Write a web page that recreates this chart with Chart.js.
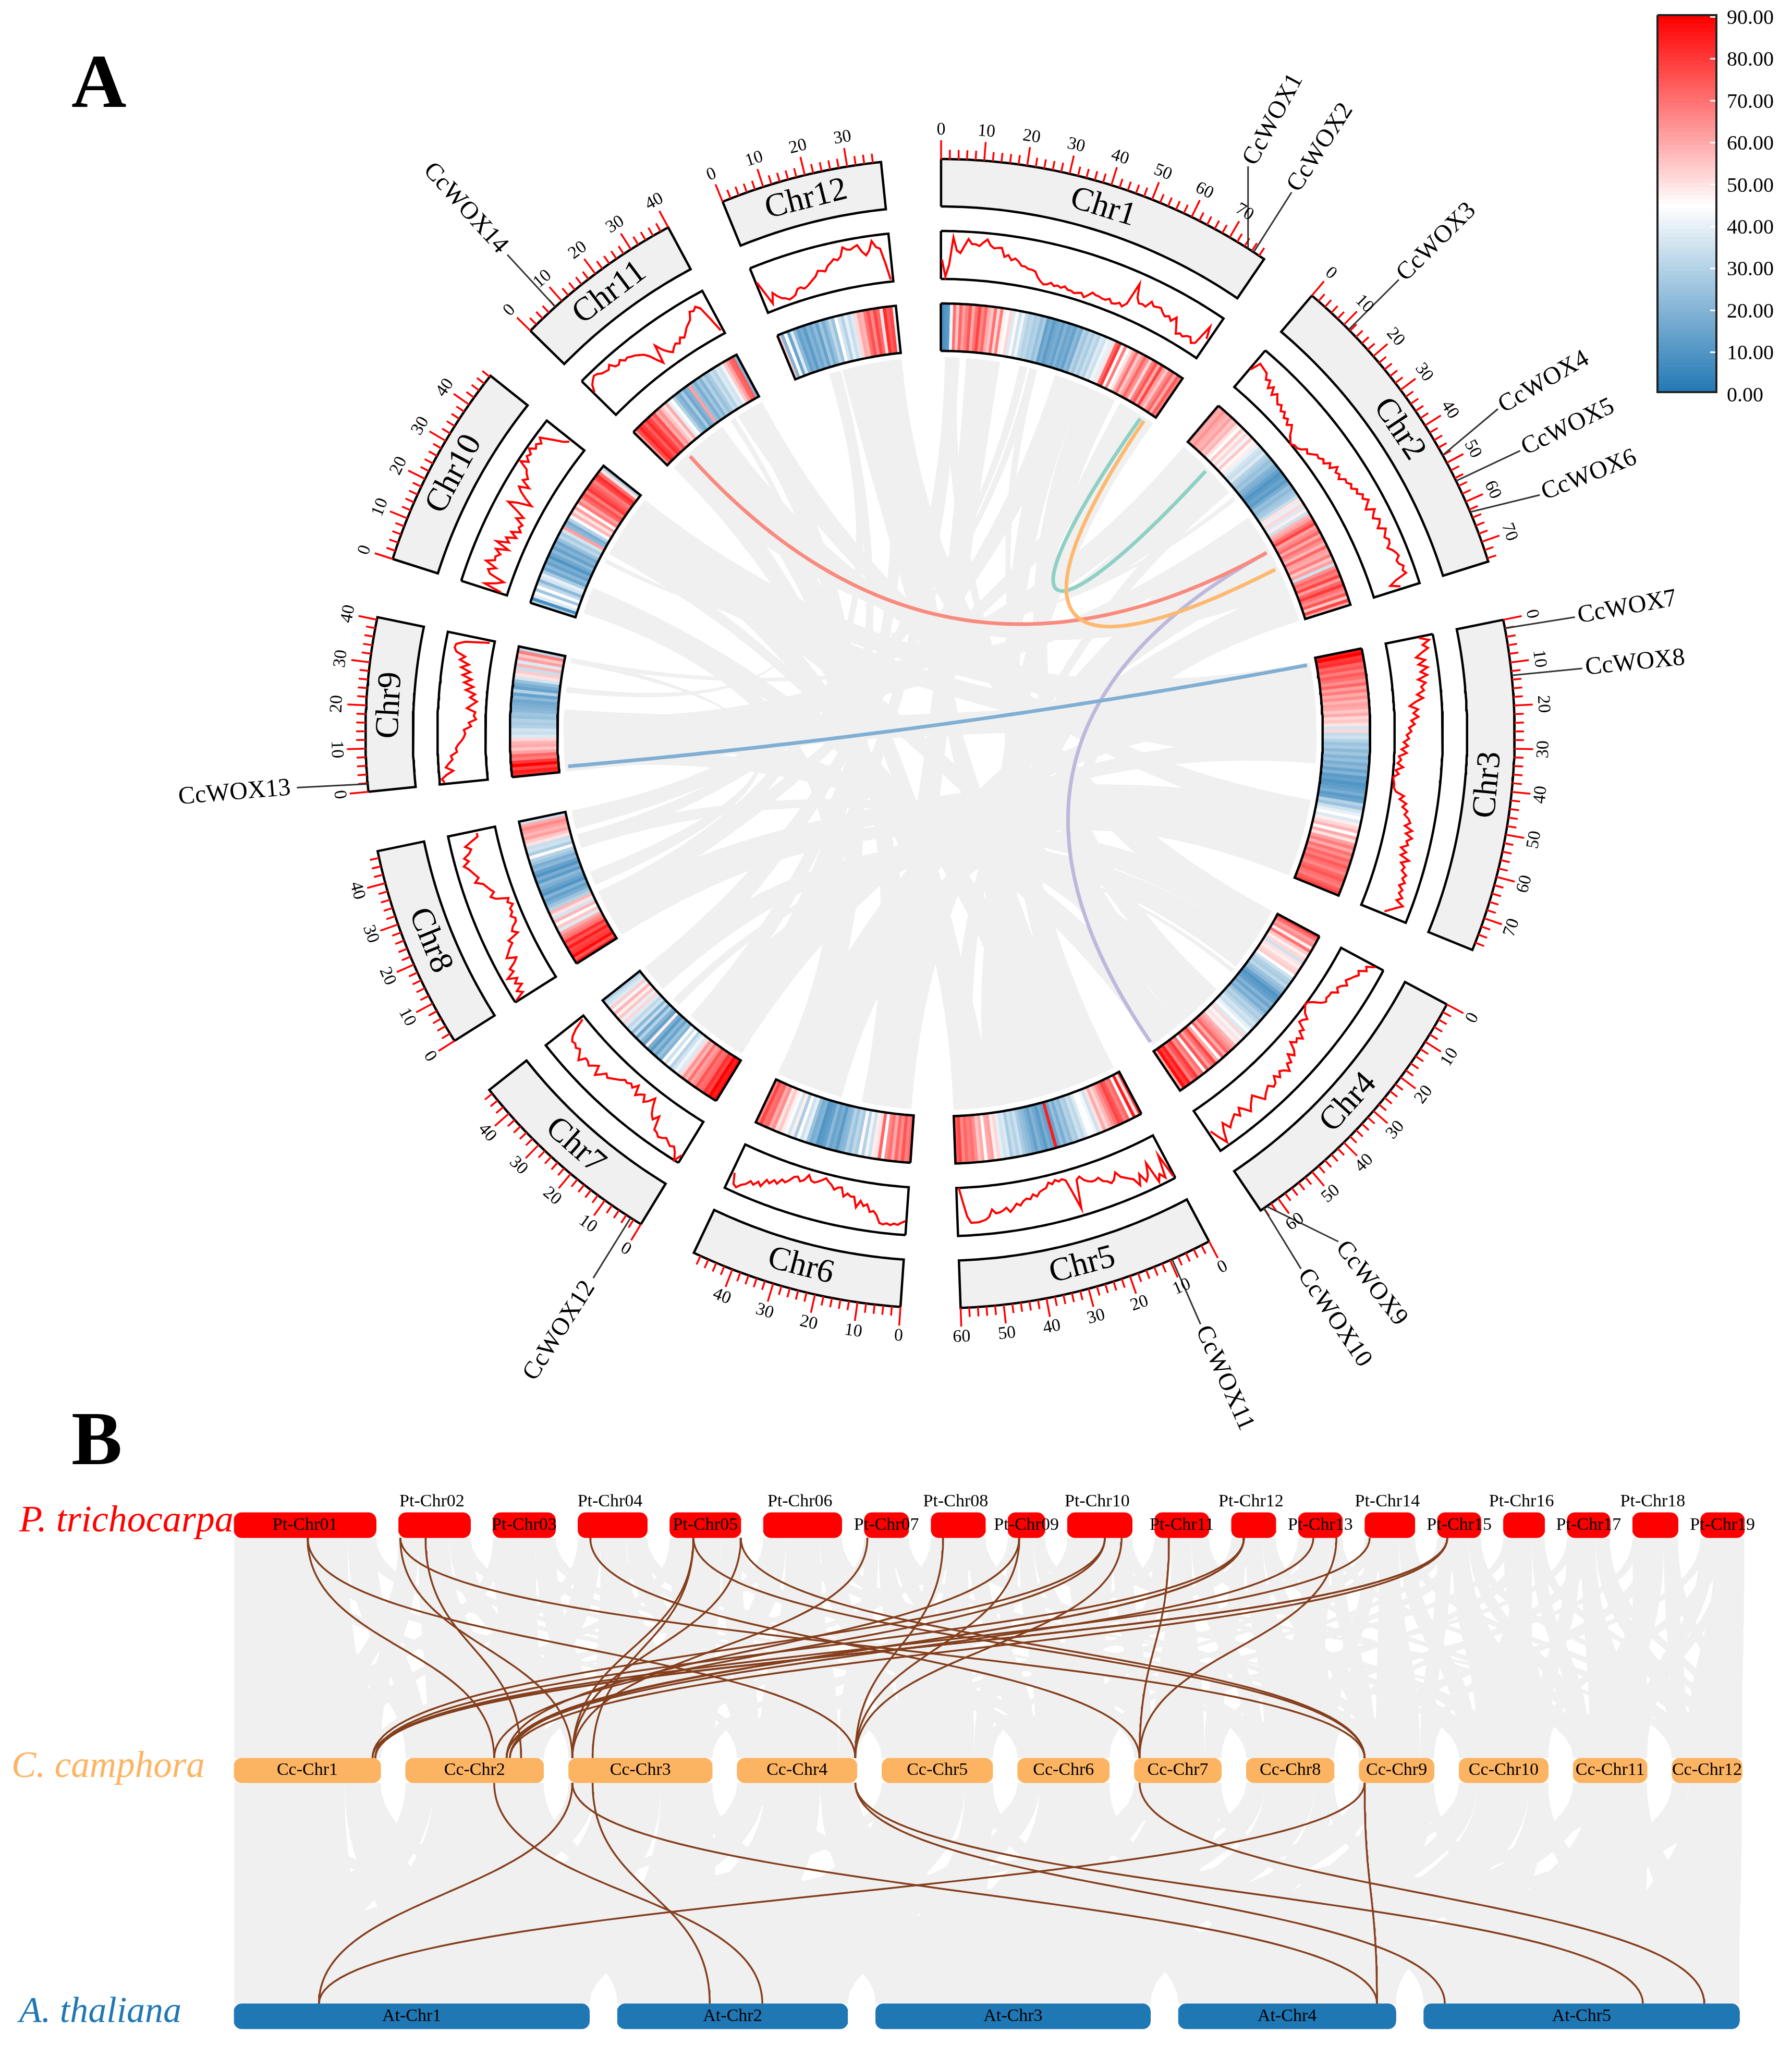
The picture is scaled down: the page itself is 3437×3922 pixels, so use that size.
<!DOCTYPE html>
<html><head><meta charset="utf-8">
<style>html,body{margin:0;padding:0;background:#fff}canvas{display:block}</style>
<script src="https://cdn.jsdelivr.net/npm/chart.js@4"></script>
</head><body><canvas id="c" width="3437" height="3922"></canvas>
<script>
// ---------- DATA : panel A ----------
const chrNames = ['Chr1','Chr2','Chr3','Chr4','Chr5','Chr6','Chr7','Chr8','Chr9','Chr10','Chr11','Chr12'];
const chrLengths = [79.4,74.8,77.8,64.9,60,49.7,47.1,47.6,40.6,48.3,40,37.9];
const heat1 = [8,10,12,42,70,55,72,62,68,75,60,70,78,66,72,60,55,70,52,68,48,44,52,38,46,35,42,34,30,32,28,30,24,28,14,18,12,16,18,14,20,15,18,14,22,18,30,26,32,28,34,30,38,35,42,40,50,72,80,45,68,45,50,60,70,55,62,72,65,52,68,75,60,78,62,55,66,72,60,74,68];
const heat2 = [62,60,64,60,58,62,55,58,50,45,55,48,52,42,55,46,48,40,36,34,38,30,28,24,26,20,18,14,10,12,15,12,18,24,22,26,28,34,50,40,52,38,48,35,58,62,70,78,62,66,72,60,70,65,58,72,62,60,68,55,62,35,65,72,68,78,62,72,80,70,65,75,55,78,60];
const heat3 = [85,90,80,82,72,75,68,74,70,65,72,62,68,60,65,58,62,60,55,60,52,55,50,36,52,33,35,30,25,28,22,26,20,24,18,22,15,20,12,14,10,12,14,18,12,15,30,25,35,40,45,38,48,52,58,45,60,50,62,68,60,70,65,72,68,74,70,66,72,75,70,68,74,78];
const heat4 = [78,70,62,66,48,70,55,48,52,35,50,48,52,54,45,35,30,28,32,25,22,15,10,12,14,20,15,22,18,25,30,28,32,36,34,40,44,38,52,42,50,48,58,62,66,72,60,72,45,60,78,70,62,75,45,70,65,80,75,68,85,80,88,60];
const heat5 = [80,50,85,45,72,68,75,78,70,65,58,52,60,50,35,42,45,44,38,32,35,28,30,22,26,18,24,15,85,14,18,12,16,20,14,18,22,24,28,35,30,34,28,38,36,40,52,48,62,60,45,60,55,65,70,68,72,66,78,74];
const heat6 = [72,68,75,65,72,60,70,66,45,72,50,48,35,42,30,46,28,32,25,30,22,20,12,18,15,22,14,12,10,20,18,25,40,35,45,28,48,36,44,48,55,50,65,60,72,70,78,68];
const heat7 = [88,85,90,78,82,72,70,75,65,62,70,58,64,52,38,42,36,30,45,35,44,20,25,15,22,12,18,48,14,20,30,16,34,22,36,32,38,52,40,55,48,58,42,54,38,35,30];
const heat8 = [85,75,88,80,78,85,75,82,70,66,60,38,55,44,58,36,50,58,30,25,18,14,20,10,14,18,22,12,18,10,14,22,18,26,30,46,28,35,34,50,55,62,58,62,66,60,35];
const heat9 = [82,85,78,90,80,68,72,62,55,60,58,52,38,34,36,30,28,30,24,26,22,20,18,16,22,14,30,14,18,24,36,50,54,34,58,38,62,55,68,32];
const heat10 = [30,8,38,44,26,45,32,22,36,40,28,16,22,14,18,10,16,22,14,20,16,24,32,28,36,62,22,18,30,44,58,50,62,46,68,62,72,76,68,80,76,72,68,78,82,70,50,30];
const heat11 = [62,76,84,80,74,82,78,70,76,60,64,56,50,60,40,45,30,22,18,28,16,20,62,24,18,26,20,30,24,28,34,30,38,36,42,55,62,72,74,20];
const heat12 = [55,20,45,15,38,22,14,18,12,20,16,22,14,26,18,24,32,25,45,36,30,40,34,38,52,60,58,70,76,66,78,72,50,82,74,78,40];
const heatTracks = [heat1,heat2,heat3,heat4,heat5,heat6,heat7,heat8,heat9,heat10,heat11,heat12];

const line1 = [.4,.05,.3,.87,.6,.55,.7,.85,.75,.75,.72,.8,.87,.75,.7,.72,.73,.55,.6,.5,.55,.5,.42,.42,.38,.38,.36,.25,.18,.13,.15,.2,.15,.18,.15,.2,.15,.15,.12,.15,.17,.1,.17,.25,.22,.22,.2,.2,.25,.18,.2,.25,.2,.3,.78,.5,.4,.42,.4,.55,.48,.5,.52,.45,.4,.45,.38,.5,.35,.2,.25,.22,.28,.3,.2,.25,.7,.45];
const line2 = [.5,.72,.7,.68,.66,.55,.6,.45,.55,.4,.5,.42,.35,.4,.3,.35,.25,.3,.2,.28,.2,.1,.05,0,.05,.05,.1,.2,.15,.22,.3,.28,.35,.3,.42,.35,.5,.4,.45,.38,.5,.48,.55,.5,.6,.55,.65,.6,.7,.62,.55,.72,.65,.6,.72,.68,.6,.75,.7,.65,.72,.7,.62,.7,.75,.78,.7,.72,.8,.75,.8,.55,.4,.6];
const line3 = [.7,.9,.75,.85,.7,.57,.75,.6,.78,.62,.75,.55,.7,.6,.65,.5,.62,.45,.33,.5,.4,.5,.35,.42,.3,.35,.25,.3,.19,.28,.15,.26,.1,.15,.08,.2,.05,.12,.01,.03,.05,.05,.1,.28,.2,.35,.28,.4,.35,.45,.5,.4,.57,.45,.6,.5,.55,.42,.55,.45,.65,.5,.6,.56,.68,.62,.7,.6,.7,.65,.75,.65,.82,.7,.6,.5];
const line4 = [.82,.65,.7,.55,.6,.53,.48,.42,.5,.4,.35,.42,.3,.3,.28,.32,.25,.12,.02,0,.05,.1,.22,.15,.12,.3,.25,.4,.3,.35,.25,.42,.5,.38,.55,.5,.65,.55,.5,.6,.49,.62,.65,.55,.6,.65,.72,.6,.48,.55,.62,.72,.6,.5,.65,.55,.6,.65,.72,.55,.7,.93,.75,.55];
const line5 = [.95,.42,.9,.78,.92,.45,.7,.8,.6,.82,.65,.6,.55,.5,.37,.5,.55,.48,.45,.35,.38,.38,.35,.3,.2,.25,.85,.5,.2,.15,.18,.13,.2,.15,.25,.27,.3,.38,.32,.41,.38,.42,.5,.45,.53,.6,.5,.55,.58,.59,.5,.65,.7,.72,.74,.74,.74,.6,.3,0];
const line6 = [.71,.75,.8,.78,.82,.79,.82,.8,.65,.57,.6,.45,.5,.4,.55,.34,.35,.3,.38,.2,.22,.28,.2,.15,.09,.15,.2,.24,.22,.12,.25,.3,.22,.25,.35,.42,.38,.5,.45,.55,.5,.67,.6,.7,.65,.75,.8,.89,.85,.63];
const line7 = [.83,1,.85,.76,.8,.75,.7,.75,.78,.72,.7,.42,.55,.48,.35,.17,.3,.38,.25,.3,.38,.18,.3,.25,.3,.28,.35,.4,.45,.5,.45,.55,.64,.45,.52,.6,.55,.54,.68,.58,.5,.55,.5,.52,.45,.3,.06];
const line8 = [.96,.75,.85,.68,.8,.7,.89,.7,.75,.6,.51,.7,.62,.55,.45,.5,.25,.35,.3,.2,.17,.25,.18,.2,.11,.2,.15,.4,.49,.39,.45,.5,.55,.7,.6,.65,.7,.75,.83,.7,.78,.65,.59,.7,.55,.4,.4];
const line9 = [.9,.95,.85,.7,.85,.78,.7,.73,.6,.62,.57,.5,.45,.42,.45,.3,.35,.2,.25,.22,.4,.3,.2,.35,.25,.45,.3,.5,.35,.55,.4,.6,.45,.65,.55,.75,.8,.78,.6,.1];
const line10 = [.14,.52,.3,.15,.48,.55,.4,.65,.48,.5,.42,.55,.3,.6,.35,.45,.25,.4,.22,.3,.25,.43,.3,.5,.74,.55,.27,.45,.6,.7,.5,.7,.62,.7,.75,.95,.8,.9,.85,.95,.83,.88,.8,.9,.75,.6,.45,.36];
const line11 = [.65,.79,.85,.9,.88,.82,.8,.78,.85,.74,.72,.78,.7,.72,.68,.65,.6,.55,.45,.3,.17,.56,.4,.3,.23,.3,.35,.3,.4,.35,.42,.5,.55,.6,.75,.72,.78,.7,.4,.09];
const line12 = [.67,.4,.14,.35,.25,.18,.15,.1,.12,.15,.25,.27,.22,.25,.3,.35,.4,.5,.48,.45,.55,.6,.66,.62,.68,.86,.8,.78,.82,.85,.7,.61,.7,.89,.75,.71,.4,.04];
const lineTracks = [line1,line2,line3,line4,line5,line6,line7,line8,line9,line10,line11,line12];

// gene, chromosome index, position (Mb), bearing of its label (deg)
const geneNames = ['CcWOX1','CcWOX2','CcWOX3','CcWOX4','CcWOX5','CcWOX6','CcWOX7','CcWOX8','CcWOX9','CcWOX10','CcWOX11','CcWOX12','CcWOX13','CcWOX14'];
const geneChr = [0,0,1,1,1,1,2,2,3,3,4,6,8,10];
const geneMb = [75,76.5,11.6,48,54.7,62.6,2,13,63.2,64,9.5,2.8,1.8,8];
const geneBearing = [28.5,33,45.3,59.8,64,68.3,79.6,84.2,141.9,146,156.2,212.5,265.2,317.9];
// collinear gene pairs : [geneA, geneB], first painted first
const genePairs = [[3,9],[0,2],[3,13],[1,4],[6,12]];
const genePairColors = ['#bdb8dc','#8ed0c4','#f98a7e','#fdb96f','#80afd3'];
const genePairSpread = [0,.14,0,.02,0];

// synteny ribbons : chrA, fromMb, toMb, chrB, fromMb, toMb
const circosRibbons = [
[0,9,21,5,2,18],[0,1.5,6.7,6,1,12],[0,28,31,7,42,47],[0,31.7,34.5,7,34,39],[0,41,52,4,1,10],[0,52,64,3,34,42],[0,66,72,1,1,10],[0,72,79.7,1,10,22],
[1,24.9,26.5,9,21.5,23],[1,34,50,4,31,48],[1,50,63,10,1,14],[1,63,74.8,3,53,64],[2,1.2,6,8,0,6],[2,6.5,22,8,6,22],[2,22,37,9,25,36],[2,50,64,5,26,38],[2,64,77.8,6,12,23],
[3,0,12,7,0,9],[3,12,23.5,6,37,47],[3,24.5,26,6,29,32],[3,42,52,9,36,48],[4,10,20,11,16.6,27],[4,20,30,11,27,38],[4,48,60,10,14,23.5],[5,38,50,9,2.3,11.8],[7,9,17.5,11,11.8,16],[7,20,25,8,38.6,40.4],[8,28,30,10,27,29],[10,31.6,40,5,44,50],
[0,70,79,4,25,40],[1,0,12,8,5,20],[1,62,74.8,5,35,49],[2,1.2,14,9,35,48],[2,64,77.8,7,5,15],[3,0,13,11,22,35],[3,52,64,8,12,22],[4,1,14,0,42,52],[4,46,60,9,36,48],[5,1,14,1,36,48],[5,38,50,10,33,40],[6,1,12,2,8,20],
[6,37,47,0,2,6.5],[7,1,12,2,52,64],[7,41,47.6,0,70,78],[8,1,8,3,36,46],[8,38.6,40.4,1,36,42],[9,2.3,11.8,4,12,20],[9,38,48,2,8,18],[10,1,10,5,2,12],[10,32,40,2,52,60],[11,12,16,6,2,12],[11,30,37.9,3,2,12],[0,1.5,6.7,6,38,46],
[0,31.7,34.5,3,45,52],[0,41,48,7,10,17],[1,34,42,8,14,20],[1,18,22.9,4,52,60],[2,28,37,6,14,22],[2,50,58,10,30,40],[3,34,42,0,2,6],[5,12,18.7,10,14,22],[5,26,34,1,50,58],[6,16,23.5,11,30,37],[7,12,17.5,0,42,50],[7,34,39,3,4,12],[9,25,30,4,20,30],[10,14,23.5,2,14,30],[11,22,30,3,5,14]
];

const colorbarTicks = [0,10,20,30,40,50,60,70,80,90];
const colorbarValues = Array.from({length:91},(_,i)=>i);

// ---------- DATA : panel B ----------
const ptNames = ['Pt-Chr01','Pt-Chr02','Pt-Chr03','Pt-Chr04','Pt-Chr05','Pt-Chr06','Pt-Chr07','Pt-Chr08','Pt-Chr09','Pt-Chr10','Pt-Chr11','Pt-Chr12','Pt-Chr13','Pt-Chr14','Pt-Chr15','Pt-Chr16','Pt-Chr17','Pt-Chr18','Pt-Chr19'];
const ptLengths = [50,25.3,22,24.4,25,27.6,15.6,19.1,13,22.8,19.1,15.6,15.5,17.6,15.3,14.5,15.1,16,15.4];
const ccNames = ['Cc-Chr1','Cc-Chr2','Cc-Chr3','Cc-Chr4','Cc-Chr5','Cc-Chr6','Cc-Chr7','Cc-Chr8','Cc-Chr9','Cc-Chr10','Cc-Chr11','Cc-Chr12'];
const ccLengths = chrLengths;
const atNames = ['At-Chr1','At-Chr2','At-Chr3','At-Chr4','At-Chr5'];
const atLengths = [30.4,19.7,23.5,18.6,27];
// ptChr, from, to, ccChr, from, to
const ptCcRibbons = [
[1,0,40,1,0,70],[1,10,30,1,40,79],[1,40,50,2,0,12],[2,0,7,1,70,79.4],[2,7,18,2,12,60],[2,18,25.3,3,0,14],[3,0,7,2,60,74.8],[3,7,15,2,30,74],[3,15,22,3,0,14],
[4,0,8,2,62,74.8],[4,8,17,3,14,65],[4,17,24.4,4,0,12],[5,0,8,3,65,77.8],[5,8,18,3,30,77],[5,18,25,4,0,12],[6,0,8,3,65,77.8],[6,8,20,4,12,55],[6,20,27.6,5,0,12],
[7,0,5,4,55,64.9],[7,5,10,5,10,50],[7,10,15.6,6,0,10],[8,0,6,4,55,64.9],[8,6,13,5,10,50],[8,13,19.1,6,0,10],[9,0,4,5,50,60],[9,4,9,6,10,42],[9,9,13,7,0,10],
[10,0,7,6,42,49.7],[10,7,16,6,10,42],[10,16,22.8,7,0,10],[11,0,6,6,42,49.7],[11,6,13,7,10,38],[11,13,19.1,8,0,10],[12,0,5,7,38,47.1],[12,5,11,8,10,40],[12,11,15.6,9,0,9],
[13,0,5,8,40,47.6],[13,5,11,8,10,40],[13,11,15.5,9,0,9],[14,0,5,8,40,47.6],[14,5,12,9,9,33],[14,12,17.6,10,0,10],[15,0,5,9,33,40.6],[15,5,11,10,10,40],[15,11,15.3,11,0,9],
[16,0,5,10,40,48.3],[16,5,10,10,10,40],[16,10,14.5,11,0,9],[17,0,5,10,40,48.3],[17,5,10,11,9,33],[17,10,15.1,12,0,9],[18,0,5,11,33,40],[18,5,11,11,9,33],[18,11,16,12,0,8],[19,0,5,11,33,40],[19,5,15.4,12,8,37.9],
[1,44,50,5,0,15],[2,20,25.3,6,0,12],[3,17,22,6,12,25],[4,19,24.4,7,0,12],[5,20,25,7,12,25],[6,22,27.6,8,0,12],[7,11,15.6,9,0,10],[8,14,19.1,9,10,20],[9,9,13,10,0,12],[10,18,22.8,10,12,24],[11,15,19.1,11,0,10],[12,12,15.6,11,10,20],[13,12,15.5,12,0,10],[14,14,17.6,12,10,20],[15,12,15.3,12,20,28],[16,11,14.5,12,28,33],[17,11,15.1,12,30,35],[18,12,16,12,33,37.9],
[2,0,5,1,50,62],[3,0,4,1,40,55],[4,0,4,1,60,70],[5,0,4,2,0,12],[6,0,5,2,12,25],[7,0,3,2,50,62],[8,0,4,3,0,12],[9,0,3,3,12,25],[10,0,5,3,50,62],[11,0,4,4,0,12],[12,0,3,4,20,32],[13,0,3,5,0,12],[14,0,4,5,15,30],[15,0,3,6,0,12],[16,0,3,6,15,30],[17,0,3,7,0,12],[18,0,3,8,0,12],[19,0,3,9,0,12],
[8,6,12,1,72,79.4],[10,7,13,2,68,74.8],[12,5,10,3,70,77.8],[13,5,10,4,58,64.9],[14,5,10,5,54,60],[15,5,10,6,44,49.7],[16,5,10,7,41,47.1],[17,5,10,8,42,47.6],[18,5,10,9,35,40.6],[19,3,8,10,43,48.3],[19,8,12,11,34,40],
[1,5,18,2,0,6],[1,10,20,3,0,6],[1,20,30,4,0,6],[2,5,12,5,0,6],[3,5,12,6,0,6],[4,8,14,7,0,6],[5,8,14,8,0,6],[6,8,16,9,0,6],[7,5,10,10,0,6],[8,6,12,11,0,6],[10,8,14,12,0,6]
];
// ccChr, from, to, atChr, from, to
const ccAtRibbons = [
[1,0,60,1,0,11],[1,60,79.4,1,14,22],[2,0,15,1,2,8],[2,15,55,1,10,22],[2,55,74.8,1,22,30.4],[3,0,15,1,8,14],[3,15,50,1,20,30],[3,50,77.8,2,0,9],[4,0,15,1,24,30],[4,15,45,2,3,13],[4,45,64.9,3,0,6],
[5,0,12,2,8,14],[5,12,45,2,12,19.7],[5,45,60,3,2,9],[6,0,12,2,12,19],[6,12,38,3,5,14],[6,38,49.7,3,14,20],[7,0,10,3,0,6],[7,10,38,3,10,19],[7,38,47.1,3,19,23.5],[8,0,10,3,8,14],[8,10,37,3,18,23.5],[8,37,47.6,4,0,6],
[9,0,9,3,18,23],[9,9,30,4,2,10],[9,30,40.6,4,10,16],[10,0,10,4,4,10],[10,10,38,4,12,18.6],[10,38,48.3,5,0,7],[11,0,9,4,10,17],[11,9,31,5,3,13],[11,31,40,5,13,19],[12,0,9,5,4,10],[12,9,37.9,5,15,27],
[1,72,79.4,2,0,6],[2,68,74.8,2,8,14],[3,70,77.8,3,0,6],[4,58,64.9,3,8,14],[5,54,60,4,0,6],[6,44,49.7,4,6,10],[7,41,47.1,5,0,6],[8,42,47.6,5,6,12],[9,35,40.6,5,12,17],[10,43,48.3,5,17,22],[11,34,40,5,22,27],
[2,0,6,1,0,6],[3,0,6,1,2,8],[4,0,6,1,6,12],[5,0,6,1,14,20],[6,0,6,1,20,26],[7,0,6,2,0,6],[8,0,6,2,6,12],[9,0,6,3,0,6],[10,0,6,3,8,14],[11,0,6,4,0,6],[12,0,6,4,8,14],
[7,10,20,1,26,30.4],[1,5,20,2,0,3],[9,10,20,2,16,19.7],[2,10,25,3,0,3],[11,10,20,3,20,23.5],[4,10,25,4,0,3],[12,10,25,4,15,18.6],[6,10,25,5,0,3]
];
// ptChr, Mb, ccChr, Mb
const ptCcLinks = [
[1,25.9,2,48],[1,25.9,4,64],[2,.6,3,2],[2,.6,9,3],[2,9.5,2,62.6],[4,4.3,7,2.8],[5,8.3,3,2],[5,8.3,3,13],[5,8.3,9,3],[5,25,3,2],[5,25,9,3],[7,1.1,3,2],[8,4.2,4,64],[9,4,4,64],[9,4,2,54.7],
[10,13.2,1,75],[10,13.2,2,48],[10,19.1,4,64],[11,5,7,2.8],[12,4.4,1,76.5],[12,4.4,2,54.7],[12,4.4,2,56.5],[13,5.3,2,54.7],[13,13.4,7,2.8],[14,1.7,1,76.5],[15,3.5,1,75],[15,3.5,1,76.5],[15,3.5,2,56.5]
];
// ccChr, Mb, atChr, Mb
const ccAtLinks = [[2,48,2,12.4],[3,2,1,7.26],[3,2,4,17],[3,13,2,7.9],[4,64,5,1.8],[4,64,5,18.75],[7,2.8,5,24],[9,3,1,7.26],[9,3,4,17]];

// ---------- LAYOUT ----------
const W=3437,H=3922;
const CX=1803,CY=1407;
const R={ideoOut:1102,ideoIn:1011,lineOut:964,lineIn:872,heatOut:825,heatIn:734,rib:722,link:716,label:1238,chrText:1056};
const GAP=6,START=0.1;
const degPerMb=(360-GAP*chrLengths.length)/chrLengths.reduce((a,b)=>a+b,0);
const chrStart=[];chrLengths.reduce((acc,l,i)=>{chrStart[i]=acc;return acc+l*degPerMb+GAP;},START);
const GRAY='#f0f0f0';
const rad=d=>d*Math.PI/180;
const polar=(r,deg)=>({x:CX+r*Math.sin(rad(deg)),y:CY-r*Math.cos(rad(deg))});
const ang=(chr,mb)=>chrStart[chr]+mb*degPerMb;

const ds=[];   // pushed in painting order
const texts=[];
function poly(pts,fill,stroke,lw){ds.push({type:'scatter',showLine:true,data:pts,fill:fill?'shape':false,backgroundColor:fill||'transparent',borderColor:stroke||fill||'transparent',borderWidth:lw||0,pointRadius:0,tension:0,borderJoinStyle:'miter',clip:false});}
function path(pts,color,lw){ds.push({type:'scatter',showLine:true,data:pts,fill:false,borderColor:color,backgroundColor:color,borderWidth:lw,pointRadius:0,tension:0,borderCapStyle:'butt',clip:false});}
function arcPts(r,a1,a2){const n=Math.max(2,Math.ceil(Math.abs(a2-a1)/.5));const o=[];for(let i=0;i<=n;i++)o.push(polar(r,a1+(a2-a1)*i/n));return o;}
function sector(r1,r2,a1,a2){const p=arcPts(r1,a1,a2).concat(arcPts(r2,a2,a1));p.push(p[0]);return p;}
function quad(p0,p2,n){const o=[];const c={x:CX,y:CY};for(let i=0;i<=n;i++){const t=i/n,u=1-t;o.push({x:u*u*p0.x+2*u*t*c.x+t*t*p2.x,y:u*u*p0.y+2*u*t*c.y+t*t*p2.y});}return o;}
// same curve as quad, with its two control points pushed apart by `s`
function spreadCurve(a,b,s,n){
  const c1={x:CX+(a.x-CX)/3+s*(a.x-b.x),y:CY+(a.y-CY)/3+s*(a.y-b.y)},c2={x:CX+(b.x-CX)/3+s*(b.x-a.x),y:CY+(b.y-CY)/3+s*(b.y-a.y)};
  const o=[];for(let i=0;i<=n;i++){const t=i/n,u=1-t;o.push({x:u*u*u*a.x+3*u*u*t*c1.x+3*u*t*t*c2.x+t*t*t*b.x,y:u*u*u*a.y+3*u*u*t*c1.y+3*u*t*t*c2.y+t*t*t*b.y});}return o;
}
function heatColor(v){
  const mix=(a,b,t)=>Math.round(a+(b-a)*t);
  if(v<=45){const t=v/45;return `rgb(${mix(31,255,t)},${mix(119,255,t)},${mix(180,255,t)})`;}
  const t=(v-45)/45;return `rgb(255,${mix(255,0,t)},${mix(255,0,t)})`;
}

// ---- panel A ribbons
circosRibbons.forEach(([ca,a1,a2,cb,b1,b2])=>{
  const A=arcPts(R.rib,ang(ca,a1),ang(ca,a2)),B=arcPts(R.rib,ang(cb,b1),ang(cb,b2));
  const p=A.concat(quad(A[A.length-1],B[0],30)).concat(B).concat(quad(B[B.length-1],A[0],30));
  poly(p,GRAY);
});
// coloured links
genePairs.forEach(([g,h],i)=>{
  const a=polar(R.link,ang(geneChr[g],geneMb[g])),b=polar(R.link,ang(geneChr[h],geneMb[h]));
  path(spreadCurve(a,b,genePairSpread[i],90),genePairColors[i],7);
});
// tracks
chrNames.forEach((nm,c)=>{
  const s=chrStart[c],L=chrLengths[c],e=ang(c,L);
  const hv=heatTracks[c];
  hv.forEach((v,i)=>{
    const col=heatColor(v);
    poly(sector(R.heatOut,R.heatIn,ang(c,L*i/hv.length),ang(c,L*(i+1)/hv.length)),col,col,1);
  });
  poly(sector(R.heatOut,R.heatIn,s,e),null,'#000',4.5);
  poly(sector(R.lineOut,R.lineIn,s,e),null,'#000',4.5);
  const lv=lineTracks[c];
  path(lv.map((v,i)=>polar(R.lineIn+v*(R.lineOut-R.lineIn),ang(c,L*(i+.3)/lv.length))),'#ff0000',4);
  poly(sector(R.ideoOut,R.ideoIn,s,e),GRAY,'#000',4.5);
  const minor=[],major=[];
  for(let m=0;m<=L;m+=2){
    const a=ang(c,m),big=m%10===0,arr=big?major:minor;
    arr.push(polar(R.ideoOut,a),polar(R.ideoOut+(big?36:18),a),{x:null,y:null});
    if(big){const rot=(a>90&&a<270)?a-180:a;const lp=polar(R.ideoOut+56,a);texts.push({t:String(m),x:lp.x,y:lp.y,rot,font:'34px "Liberation Serif"',align:'center'});}
  }
  path(minor,'#ff0000',3.5);path(major,'#ff0000',3.5);
  const ma=(s+e)/2,rp=polar(R.chrText,ma);
  texts.push({t:nm,x:rp.x,y:rp.y,rot:(ma>90&&ma<270)?ma-180:(ma>270?ma-360:ma),font:'64px "Liberation Serif"',align:'center'});
});
// gene labels
geneNames.forEach((g,i)=>{
  const base=polar(R.ideoOut,ang(geneChr[i],geneMb[i])),brg=geneBearing[i],knee=polar(R.label,brg);
  path([base,knee],'#333',3);
  const left=brg>180;
  const lp=polar(R.label+(left?12:6),brg);
  texts.push({t:g,x:lp.x,y:lp.y,rot:left?brg-270:brg-90,font:'48px "Liberation Serif"',align:left?'right':'left'});
});
// colour bar
const cbBox={x0:3179,x1:3292,y0:29,y1:752};
const cbY=v=>756-v*8.04;
colorbarValues.forEach(v=>{
  const y0=Math.max(cbBox.y0,cbY(v+.5)),y1=Math.min(cbBox.y1,cbY(v-.5));
  const col=heatColor(v);
  poly([{x:cbBox.x0,y:y0},{x:cbBox.x1,y:y0},{x:cbBox.x1,y:y1},{x:cbBox.x0,y:y1},{x:cbBox.x0,y:y0}],col,col,1);
});
{
 const tk=[];colorbarTicks.forEach(v=>{if(v>0){tk.push({x:3280,y:cbY(v)},{x:3291,y:cbY(v)},{x:null,y:null});}
  texts.push({t:v.toFixed(2),x:3312,y:cbY(v)+3,rot:0,font:'40px "Liberation Serif"',align:'left'});});
 path(tk,'#ffffff',3);
 poly([{x:cbBox.x0,y:cbBox.y0},{x:cbBox.x1,y:cbBox.y0},{x:cbBox.x1,y:cbBox.y1},{x:cbBox.x0,y:cbBox.y1},{x:cbBox.x0,y:cbBox.y0}],null,'#222',4);
}

// ---- panel B
const rows={
  pt:{x0:449,x1:3345.6,gap:43.3,top:2901,bot:2949,len:ptLengths,names:ptNames,col:'#ff0000'},
  cc:{x0:449,x1:3341,gap:48,top:3372,bot:3419,len:ccLengths,names:ccNames,col:'#fdb462'},
  at:{x0:449,x1:3336,gap:53.8,top:3843,bot:3891,len:atLengths,names:atNames,col:'#1f77b4'}
};
Object.values(rows).forEach(r=>{
  const tot=r.len.reduce((a,b)=>a+b,0);r.k=(r.x1-r.x0-r.gap*(r.len.length-1))/tot;
  r.s=[];r.len.reduce((acc,l,i)=>{r.s[i]=acc;return acc+l*r.k+r.gap;},r.x0);
  r.px=(c,m)=>r.s[c-1]+m*r.k;
});
function cubic(x1,y1,x2,y2,n){const ym=(y1+y2)/2,o=[];for(let i=0;i<=n;i++){const t=i/n,u=1-t;
  o.push({x:u*u*u*x1+3*u*u*t*x1+3*u*t*t*x2+t*t*t*x2,y:u*u*u*y1+3*u*u*t*ym+3*u*t*t*ym+t*t*t*y2});}return o;}
function band(ra,rb,list){list.forEach(([ca,a1,a2,cb,b1,b2])=>{
  const xa1=ra.px(ca,a1),xa2=ra.px(ca,a2),xb1=rb.px(cb,b1),xb2=rb.px(cb,b2);
  poly(cubic(xa1,ra.bot,xb1,rb.top,30).concat(cubic(xb2,rb.top,xa2,ra.bot,30)),GRAY);
});}
band(rows.pt,rows.cc,ptCcRibbons);
band(rows.cc,rows.at,ccAtRibbons);
const BROWN='#843e1c';
ptCcLinks.forEach(([a,ma,b,mb])=>path(cubic(rows.pt.px(a,ma),rows.pt.bot,rows.cc.px(b,mb),rows.cc.top,70),BROWN,3.5));
ccAtLinks.forEach(([a,ma,b,mb])=>path(cubic(rows.cc.px(a,ma),rows.cc.bot,rows.at.px(b,mb),rows.at.top,70),BROWN,3.5));
function rrect(x0,x1,y0,y1,r){const o=[];const cs=[[x1-r,y0+r,-90],[x1-r,y1-r,0],[x0+r,y1-r,90],[x0+r,y0+r,180]];
  cs.forEach(([cx,cy,st])=>{for(let i=0;i<=6;i++){const a=rad(st+15*i);o.push({x:cx+r*Math.cos(a),y:cy+r*Math.sin(a)});}});o.push(o[0]);return o;}
Object.entries(rows).forEach(([key,r])=>{
  r.len.forEach((l,i)=>{
    const x0=r.s[i],x1=x0+l*r.k;
    poly(rrect(x0,x1,r.top,r.bot,14),r.col,r.col,1);
    const up=key==='pt'&&i%2===1;
    texts.push({t:r.names[i],x:(x0+x1)/2-(up?5:0),y:up?2880:(r.top+r.bot)/2,rot:0,font:'34px "Liberation Serif"',align:'center'});
  });
});
texts.push({t:'A',x:137,y:205,rot:0,font:'bold 146px "Liberation Serif"',align:'left',base:'alphabetic'});
texts.push({t:'B',x:137,y:2808,rot:0,font:'bold 146px "Liberation Serif"',align:'left',base:'alphabetic'});
texts.push({t:'P. trichocarpa',x:37,y:2937,rot:0,font:'italic 72px "Liberation Serif"',align:'left',base:'alphabetic',col:'#ff0000'});
texts.push({t:'C. camphora',x:22,y:3408,rot:0,font:'italic 71px "Liberation Serif"',align:'left',base:'alphabetic',col:'#fdb462'});
texts.push({t:'A. thaliana',x:37,y:3878,rot:0,font:'italic 70px "Liberation Serif"',align:'left',base:'alphabetic',col:'#1f77b4'});

const textPlugin={id:'textLayer',afterDatasetsDraw(chart){
  const ctx=chart.ctx,sx=chart.scales.x,sy=chart.scales.y;
  texts.forEach(o=>{ctx.save();ctx.translate(sx.getPixelForValue(o.x),sy.getPixelForValue(o.y));ctx.rotate(rad(o.rot));
    ctx.font=o.font;ctx.fillStyle=o.col||'#000';ctx.textAlign=o.align;ctx.textBaseline=o.base||'middle';ctx.fillText(o.t,0,0);ctx.restore();});
}};
new Chart(document.getElementById('c'),{
  type:'scatter',
  data:{datasets:ds.slice().reverse()},
  options:{responsive:false,animation:false,events:[],devicePixelRatio:1,
    layout:{padding:0},
    plugins:{legend:{display:false},tooltip:{enabled:false},title:{display:false},filler:{propagate:false}},
    scales:{x:{type:'linear',display:false,min:0,max:W},y:{type:'linear',display:false,min:0,max:H,reverse:true}}
  },
  plugins:[textPlugin]
});
</script></body></html>
